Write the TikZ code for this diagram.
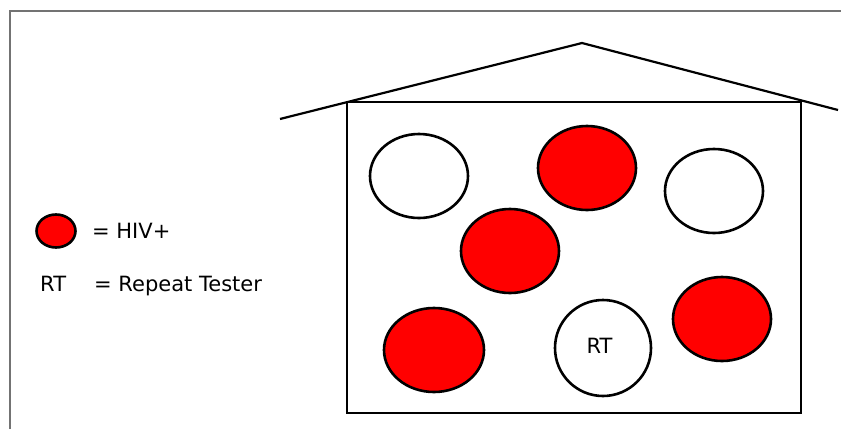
\documentclass[tikz,border=0pt]{standalone}
\usepackage{fontspec}
\setmainfont{DejaVu Sans}
\begin{document}
\begin{tikzpicture}[x=1pt,y=-1pt,
  dot/.style={draw=black,line width=2.6pt},
  hiv/.style={fill=red},
  lbl/.style={font=\fontsize{21}{25}\selectfont,inner sep=0pt}]
\useasboundingbox (0,0) rectangle (841,429);
% page frame
\draw[black!55,line width=1.8pt] (10,429) -- (10,11) -- (841,11);
% house
\coordinate (rl) at (280,119);
\coordinate (apex) at (582,43);
\coordinate (rr) at (838,110);
\draw[line width=2.2pt] (rl) -- (apex) -- (rr);
\draw[line width=2.6pt] (347,102) rectangle (801,413);
% people
\draw[dot] (419,176) ellipse [x radius=49,y radius=42];
\draw[dot,hiv] (587,168) ellipse [x radius=49,y radius=42];
\draw[dot] (714,191) ellipse [x radius=49,y radius=42];
\draw[dot,hiv] (510,251) ellipse [x radius=49,y radius=42];
\draw[dot,hiv] (434,350) ellipse [x radius=50,y radius=42];
\draw[dot] (603,348) circle [radius=48];
\node[lbl,anchor=base] (rt) at (599.5,353) {RT};
\draw[dot,hiv] (722,319) ellipse [x radius=49,y radius=42];
% legend
\draw[dot,hiv] (56,231) ellipse [x radius=19.5,y radius=16.5];
\node[lbl,anchor=base west] (hiv) at (92,238) {= HIV+};
\node[lbl,anchor=base west] (rtl) at (40,291) {RT};
\node[lbl,anchor=base west] (rtd) at (94,291) {= Repeat Tester};
\end{tikzpicture}
\end{document}
